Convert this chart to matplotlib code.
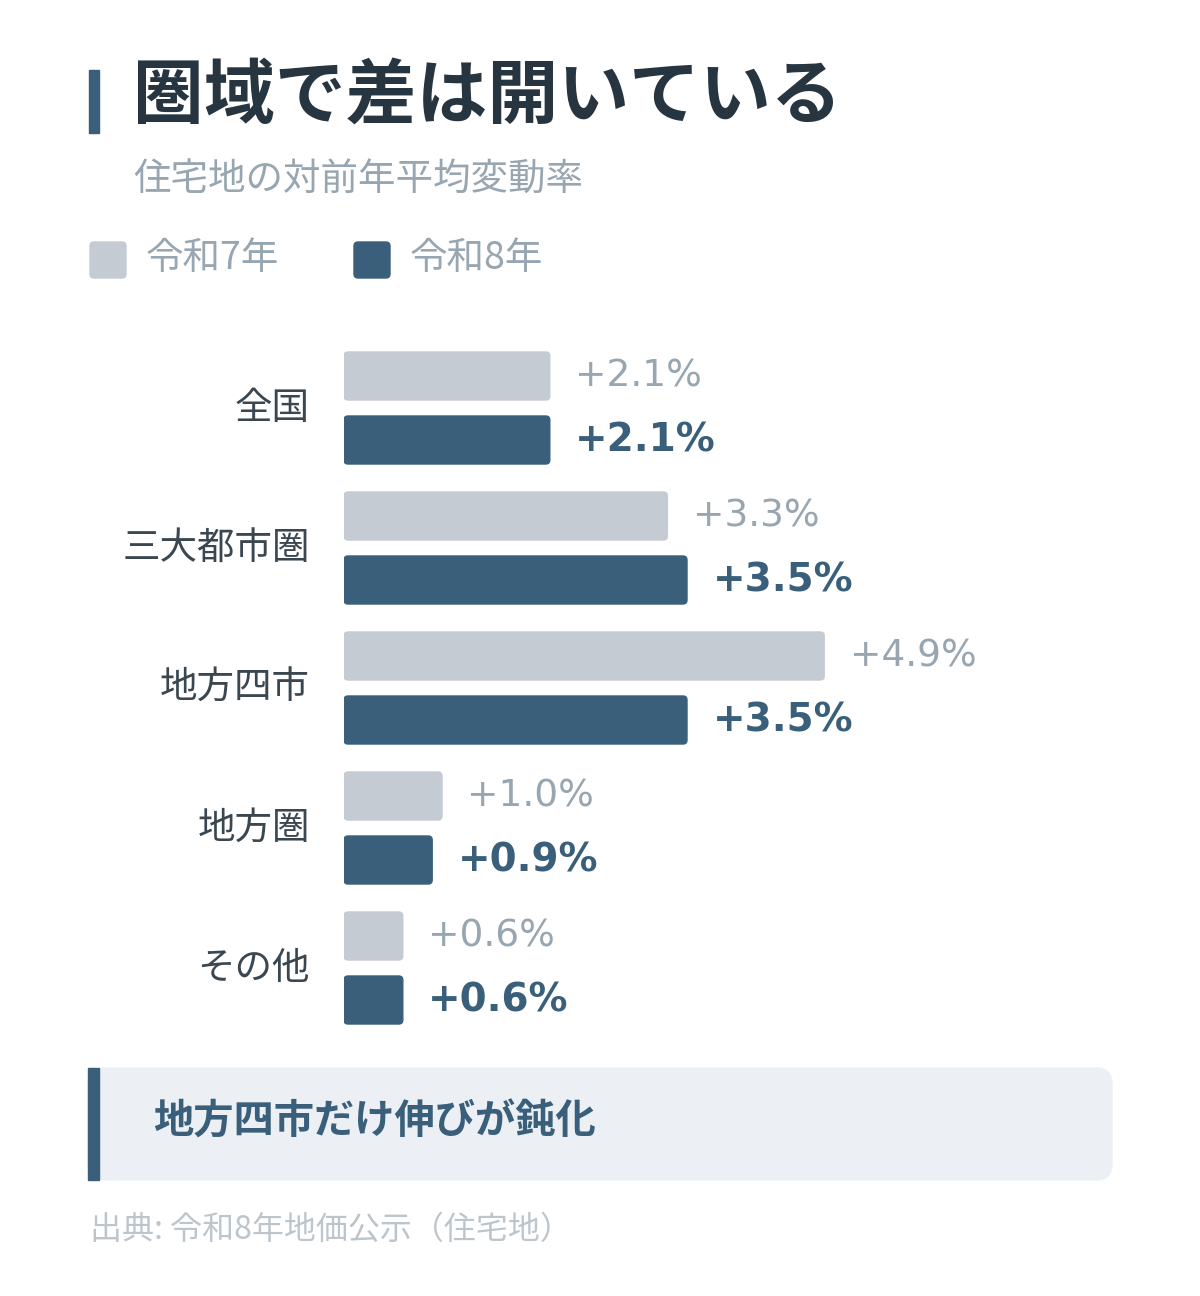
import matplotlib
matplotlib.use("Agg")
import matplotlib.pyplot as plt
from matplotlib.patches import FancyBboxPatch, Rectangle

plt.rcParams['font.family'] = ['Noto Sans CJK JP', 'DejaVu Sans']

categories = ["全国", "三大都市圏", "地方四市", "地方圏", "その他"]
r7 = [2.1, 3.3, 4.9, 1.0, 0.6]
r8 = [2.1, 3.5, 3.5, 0.9, 0.6]
legend_labels = ["令和7年", "令和8年"]

W, H = 1200, 1296
fig = plt.figure(figsize=(W/100, H/100), dpi=100)
fig.patch.set_facecolor("white")

def fx(px): return px / W
def fy(py): return 1 - py / H

LIGHT = "#c5cbd3"; DARK = "#3a5f7a"; TITLE = "#263540"; GRAY = "#97a6b0"

# overlay axes in pixel coords for decorations
ov = fig.add_axes([0, 0, 1, 1]); ov.set_xlim(0, W); ov.set_ylim(H, 0); ov.axis("off")
ov.add_patch(Rectangle((89, 70), 10, 63, color=DARK))
ov.text(133, 97, "圏域で差は開いている", fontsize=51, fontweight="bold", color=TITLE, va="center")
ov.text(133, 180, "住宅地の対前年平均変動率", fontsize=27, color=GRAY, va="center")
ov.add_patch(FancyBboxPatch((90, 242), 36, 36, boxstyle="round,pad=0,rounding_size=4", color=LIGHT))
ov.text(146, 259, legend_labels[0], fontsize=27, color=GRAY, va="center")
ov.add_patch(FancyBboxPatch((354, 242), 36, 36, boxstyle="round,pad=0,rounding_size=4", color=DARK))
ov.text(410, 259, legend_labels[1], fontsize=27, color=GRAY, va="center")
ov.add_patch(FancyBboxPatch((88, 1068), 1024, 112, boxstyle="round,pad=0,rounding_size=16", color="#ecf0f4"))
ov.add_patch(Rectangle((88, 1068), 11, 112, color=DARK))
ov.text(153, 1122, "地方四市だけ伸びが鈍化", fontsize=29, fontweight="bold", color=DARK, va="center")
ov.text(90, 1230, "出典: 令和8年地価公示（住宅地）", fontsize=23, color="#bcc5cc", va="center")

# bar axes
x0, x1, y0, y1 = 344, 1100, 340, 1040
ax = fig.add_axes([fx(x0), fy(y1), fx(x1 - x0), (y1 - y0) / H])
ax.set_xlim(0, (x1 - x0) / 98.0)
ax.set_ylim(y1, y0)
ax.axis("off")
hb = 48
for i, (c, a, b) in enumerate(zip(categories, r7, r8)):
    ya = 376 + i * 140; yb = 440 + i * 140
    for y, v, col in ((ya, a, LIGHT), (yb, b, DARK)):
        ax.add_patch(FancyBboxPatch((0, y - hb/2), v, hb, boxstyle="round,pad=0,rounding_size=0.04",
                                    color=col, mutation_aspect=100))
    ax.text(a + 0.26, ya, f"+{a:.1f}%", fontsize=27, color=GRAY, va="center", family="DejaVu Sans")
    ax.text(b + 0.26, yb, f"+{b:.1f}%", fontsize=28, color=DARK, va="center", fontweight="bold",
            family="DejaVu Sans")
    ov.text(310, 408 + i * 140, c, fontsize=27, color="#3a4750", ha="right", va="center")

fig.savefig("out.png", dpi=100)
